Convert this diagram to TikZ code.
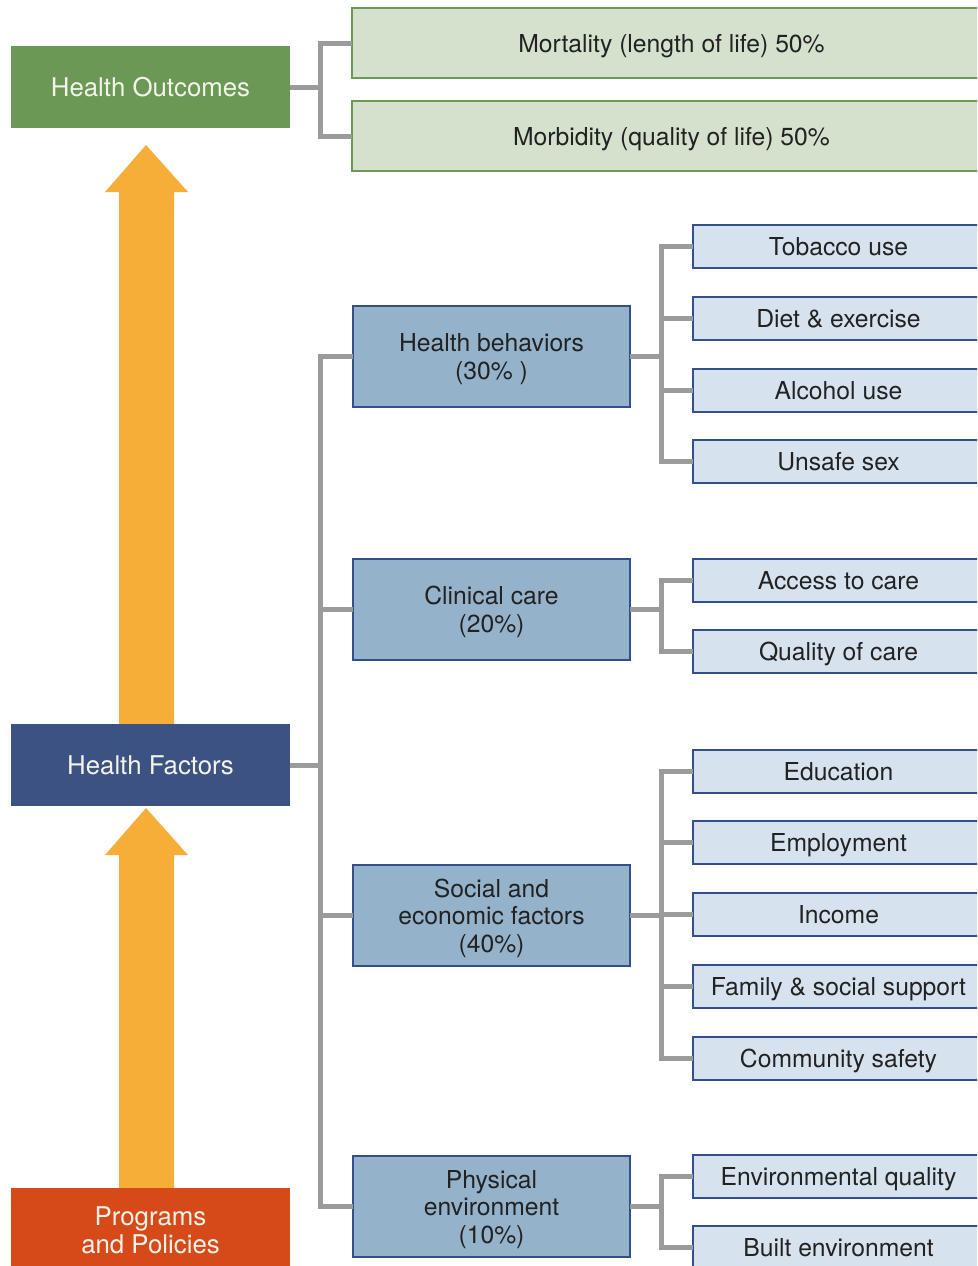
\documentclass[tikz,border=0pt]{standalone}
\usepackage{fontspec}
\setmainfont{TeX Gyre Heros}
\definecolor{hogreen}{HTML}{6B9955}
\definecolor{outfill}{HTML}{D4E1CC}
\definecolor{hfblue}{HTML}{3C5283}
\definecolor{pporange}{HTML}{D64A19}
\definecolor{midfill}{HTML}{94B3CA}
\definecolor{bluebord}{HTML}{34508C}
\definecolor{leaffill}{HTML}{D6E3EF}
\definecolor{arrowcol}{HTML}{F7AE38}
\definecolor{conncol}{HTML}{9B9B9B}
\definecolor{txtdark}{HTML}{222222}
\definecolor{txtlight}{HTML}{F3F3EA}
\tikzset{
  base/.style={anchor=north west, inner sep=0pt, outer sep=0pt, align=center,
    text depth=0pt, font=\fontsize{24.7}{27.5}\selectfont},
  leftbox/.style={base, minimum width=279pt, minimum height=82pt, text=txtlight,
    font=\fontsize{25.8}{28}\selectfont},
  outbox/.style={base, draw=hogreen, line width=2pt, fill=outfill, text=txtdark,
    minimum width=639pt, minimum height=70pt},
  midbox/.style={base, draw=bluebord, line width=2pt, fill=midfill, text=txtdark,
    minimum width=277pt, minimum height=101pt},
  leafbox/.style={base, draw=bluebord, line width=2pt, fill=leaffill, text=txtdark,
    minimum width=291pt, minimum height=43pt},
  conn/.style={draw=conncol, line width=5pt},
  bigarrow/.style={fill=arrowcol, draw=none}
}
\begin{document}
\begin{tikzpicture}[x=1pt, y=-1pt]
\clip (0,0) rectangle (977,1266);
\fill[white] (0,0) rectangle (977,1266);
% arrows
\fill[bigarrow] (146,145) -- (188,192) -- (174,192) -- (174,730) -- (119,730) -- (119,192) -- (105,192) -- cycle;
\fill[bigarrow] (146,808) -- (188,855) -- (174,855) -- (174,1192) -- (119,1192) -- (119,855) -- (105,855) -- cycle;
% left boxes
\node[leftbox, fill=hogreen] (HO) at (11,46) {Health Outcomes};
\node[leftbox, fill=hfblue] (HF) at (11,724) {Health Factors};
\node[leftbox, fill=pporange, minimum height=84pt] (PP) at (11,1188) {Programs\\and Policies};
% outcomes
\node[outbox] (mort) at (352,8) {Mortality (length of life) 50\%};
\node[outbox] (morb) at (352,101) {Morbidity (quality of life) 50\%};
% mid boxes
\node[midbox] (HB) at (353,306) {Health behaviors\\(30\% )};
\node[midbox] (CC) at (353,559) {Clinical care\\(20\%)};
\node[midbox] (SE) at (353,865) {Social and\\economic factors\\(40\%)};
\node[midbox] (PE) at (353,1156) {Physical\\environment\\(10\%)};
% leaves
\node[leafbox] (tob) at (693,225) {Tobacco use};
\node[leafbox] (diet) at (693,297) {Diet \& exercise};
\node[leafbox] (alc) at (693,369) {Alcohol use};
\node[leafbox] (sex) at (693,440) {Unsafe sex};
\node[leafbox] (acc) at (693,559) {Access to care};
\node[leafbox] (qual) at (693,630) {Quality of care};
\node[leafbox] (edu) at (693,750) {Education};
\node[leafbox] (emp) at (693,821) {Employment};
\node[leafbox] (inc) at (693,893) {Income};
\node[leafbox] (fam) at (693,965) {Family \& social support};
\node[leafbox] (com) at (693,1037) {Community safety};
\node[leafbox] (env) at (693,1155) {Environmental quality};
\node[leafbox] (blt) at (693,1226) {Built environment};
% connectors: outcomes
\path (HO.east) ++(30,0) coordinate (bo);
\draw[conn] (HO.east) -- (bo);
\draw[conn] (mort.west) -| (bo) |- (morb.west);
% connectors: factors
\path (HF.east) ++(30,0) coordinate (bf);
\draw[conn] (HF.east) -- (bf);
\draw[conn] (HB.west) -| (bf) |- (PE.west);
\draw[conn] (CC.west) -- (CC.west -| bf);
\draw[conn] (SE.west) -- (SE.west -| bf);
% health behaviors
\path (HB.east) ++(31,0) coordinate (bh);
\draw[conn] (HB.east) -- (bh);
\draw[conn] (tob.west) -| (bh) |- (sex.west);
\draw[conn] (diet.west) -- (diet.west -| bh);
\draw[conn] (alc.west) -- (alc.west -| bh);
% clinical care
\path (CC.east) ++(31,0) coordinate (bc);
\draw[conn] (CC.east) -- (bc);
\draw[conn] (acc.west) -| (bc) |- (qual.west);
% social economic
\path (SE.east) ++(31,0) coordinate (bs);
\draw[conn] (SE.east) -- (bs);
\draw[conn] (edu.west) -| (bs) |- (com.west);
\draw[conn] (emp.west) -- (emp.west -| bs);
\draw[conn] (inc.west) -- (inc.west -| bs);
\draw[conn] (fam.west) -- (fam.west -| bs);
% physical environment
\path (PE.east) ++(31,0) coordinate (bp);
\draw[conn] (PE.east) -- (bp);
\draw[conn] (env.west) -| (bp) |- (blt.west);
\end{tikzpicture}
\end{document}
